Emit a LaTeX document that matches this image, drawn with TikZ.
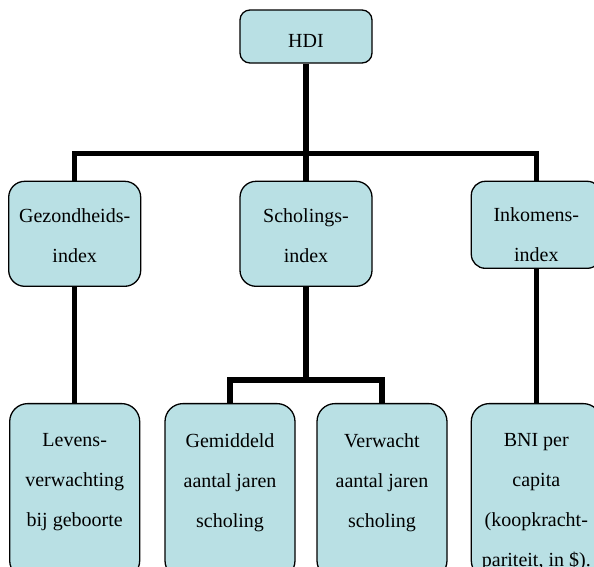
\documentclass[tikz,border=0pt]{standalone}
\usepackage{fontspec}
\setmainfont{Liberation Serif}
\usepackage{xcolor}
\usepackage{tikz}
\usetikzlibrary{positioning,calc}

\definecolor{boxfill}{HTML}{B9E0E4}

\begin{document}
\begin{tikzpicture}[
    x=1pt, y=-1pt,
    box/.style={rectangle, draw=black, line width=1.3pt, fill=boxfill, rounded corners=16pt, minimum width=132pt, minimum height=105pt, inner sep=0pt},
    leaf/.style={box, rounded corners=18pt, minimum width=130pt, minimum height=175pt},
    txt/.style={anchor=north, align=center, inner sep=0pt, font=\fontsize{20}{40}\selectfont, yshift=-28pt},
    conn/.style={line width=5.5pt}
]
\clip (0,0) rectangle (594,566);

% Top
\node[box, rounded corners=10pt, minimum height=53pt, label={[txt, yshift=3pt]north:HDI}] (hdi) at (306,36.5) {};

% Indices
\node[box, below=117pt of hdi, label={[txt]north:{Scholings-\\index}}] (schol) {};
\node[box, left=98pt of schol, label={[txt]north:{Gezondheids-\\index}}] (gez) {};
\node[box, rounded corners=14pt, minimum width=130pt, minimum height=87pt, right=98pt of schol.north east, anchor=north west, label={[txt, yshift=1pt]north:{Inkomens-\\index}}] (ink) {};

% Indicators
\node[leaf, below=116pt of gez, label={[txt, yshift=-2pt]north:{Levens-\\verwachting\\bij geboorte}}] (lev) {};
\node[leaf, below=116pt of schol, xshift=-76pt, label={[txt, yshift=-2pt]north:{Gemiddeld\\aantal jaren\\scholing}}] (gem) {};
\node[leaf, below=116pt of schol, xshift=76pt, label={[txt, yshift=-2pt]north:{Verwacht\\aantal jaren\\scholing}}] (ver) {};
\node[leaf, below=134pt of ink, label={[txt, yshift=-2pt]north:{BNI per\\capita\\(koopkracht-\\pariteit, in \$).}}] (bni) {};

% Connectors - HDI to indices
\coordinate (hub) at ([yshift=-90pt]hdi.south);
\draw[conn] (hdi) -- (hub);
\draw[conn] (gez) |- (hub) -| (ink);
\draw[conn] (hub) -- (schol);

% Connectors - indices to indicators
\coordinate (subhub) at ([yshift=-93pt]schol.south);
\draw[conn] (gez) -- (lev);
\draw[conn] (schol) -- (subhub);
\draw[conn] (gem) |- (subhub) -| (ver);
\draw[conn] (ink) -- (bni);

\end{tikzpicture}
\end{document}
